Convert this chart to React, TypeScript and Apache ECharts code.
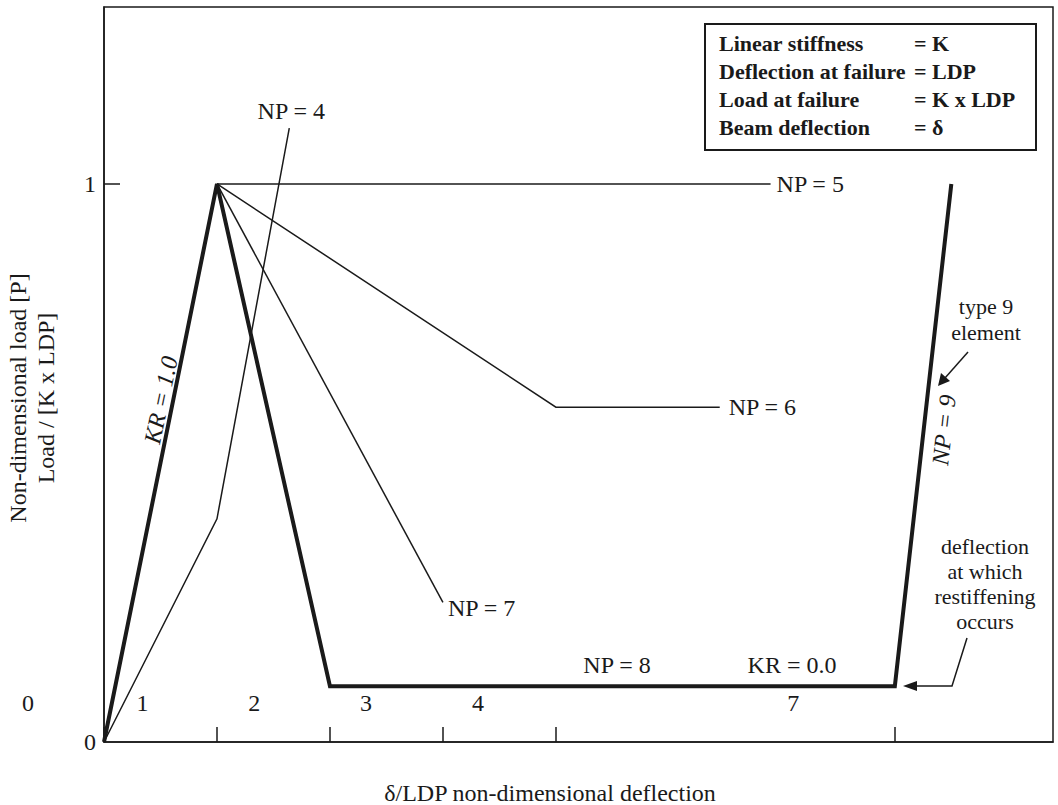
import React, { useEffect, useRef } from "react";
import * as echarts from "echarts";

// ---- data (non-dimensional deflection, non-dimensional load) ----
const thickX = [0, 1, 2, 7, 7.5];
const thickY = [0, 1, 0.1, 0.1, 1];
const np4X = [0, 1, 1.64];
const np4Y = [0, 0.4, 1.1];
const np5X = [1, 5.9];
const np5Y = [1, 1];
const np6X = [1, 4, 5.45];
const np6Y = [1, 0.6, 0.6];
const np7X = [1, 3];
const np7Y = [1, 0.25];

const xTicks = [0, 1, 2, 3, 4, 7];
const yTicks = [1];
const yLabels = [0, 1];
const segLabels = ["1", "2", "3", "4", "7"];
const segLabelX = [0.34, 1.33, 2.32, 3.31, 6.1];

const legendLeft = ["Linear stiffness", "Deflection at failure", "Load at failure", "Beam deflection"];
const legendRight = ["= K", "= LDP", "= K x LDP", "= δ"];

const FONT = "'Liberation Serif', 'Times New Roman', serif";
const INK = "#1a1a1a";

const pairs = (xs: number[], ys: number[]) => xs.map((x, i) => [x, ys[i]]);

export default function App() {
  const ref = useRef<HTMLDivElement>(null);
  useEffect(() => {
    const chart = echarts.init(ref.current!, null, { renderer: "svg" });
    const lineSeries = (name: string, xs: number[], ys: number[], w: number) => ({
      name,
      type: "line",
      data: pairs(xs, ys),
      showSymbol: false,
      symbol: "none",
      lineStyle: { color: INK, width: w, join: "miter" },
      z: 3,
    });
    const txt = (text: string, x: number, y: number, extra: any = {}) => ({
      type: "text",
      x,
      y,
      style: {
        text,
        fill: INK,
        font: `24px ${FONT}`,
        textAlign: "center",
        textVerticalAlign: "middle",
        ...extra,
      },
      z: 10,
    });
    chart.setOption({
      animation: false,
      backgroundColor: "#fff",
      grid: {
        left: 104,
        top: 7,
        right: 5,
        bottom: 63,
        show: true,
        borderColor: INK,
        borderWidth: 1.5,
        backgroundColor: "transparent",
      },
      xAxis: {
        type: "value",
        min: 0,
        max: 8.4,
        axisLine: { show: true, onZero: false, lineStyle: { color: INK, width: 1.5 } },
        axisTick: { show: true, inside: true, length: 15, customValues: xTicks, lineStyle: { color: INK, width: 1.5 } },
        axisLabel: { show: false },
        splitLine: { show: false },
      },
      yAxis: {
        type: "value",
        min: 0,
        max: 1.317,
        axisLine: { show: true, onZero: false, lineStyle: { color: INK, width: 1.5 } },
        axisTick: { show: true, inside: true, length: 16, customValues: yTicks, lineStyle: { color: INK, width: 1.5 } },
        axisLabel: {
          show: true,
          customValues: yLabels,
          margin: 8,
          color: INK,
          fontFamily: "Liberation Serif",
          fontSize: 24,
        },
        splitLine: { show: false },
      },
      series: [
        lineSeries("thick", thickX, thickY, 4),
        lineSeries("NP4", np4X, np4Y, 1.5),
        lineSeries("NP5", np5X, np5Y, 1.5),
        lineSeries("NP6", np6X, np6Y, 1.5),
        lineSeries("NP7", np7X, np7Y, 1.5),
      ],
    });

    const px = (x: number, y: number) => chart.convertToPixel({ gridIndex: 0 }, [x, y]) as number[];
    const graphics: any[] = [];

    // segment labels
    segLabels.forEach((s, i) => {
      const p = px(segLabelX[i], 0);
      graphics.push(txt(s, p[0], 703));
    });
    graphics.push(txt("0", 28, 703));

    // series labels
    const p4 = px(np4X[2], np4Y[2]);
    graphics.push(txt("NP = 4", p4[0] + 2, p4[1] - 17));
    const p5 = px(np5X[1], np5Y[1]);
    graphics.push(txt("NP = 5", p5[0] + 6, p5[1], { textAlign: "left" }));
    const p6 = px(np6X[2], np6Y[2]);
    graphics.push(txt("NP = 6", p6[0] + 9, p6[1], { textAlign: "left" }));
    const p7 = px(np7X[1], np7Y[1]);
    graphics.push(txt("NP = 7", p7[0] + 5, p7[1] + 6, { textAlign: "left" }));
    graphics.push(txt("NP = 8", 617, 665));
    graphics.push(txt("KR = 0.0", 792, 665));

    // rotated labels
    graphics.push({
      type: "text",
      x: 161,
      y: 400,
      rotation: Math.atan2(558, 115),
      style: { text: "KR = 1.0", fill: INK, font: `italic 24px ${FONT}`, textAlign: "center", textVerticalAlign: "middle" },
      z: 10,
    });
    graphics.push({
      type: "text",
      x: 944,
      y: 430,
      rotation: Math.atan2(502, 57),
      style: { text: "NP = 9", fill: INK, font: `italic 24px ${FONT}`, textAlign: "center", textVerticalAlign: "middle" },
      z: 10,
    });

    // annotations
    graphics.push(txt("type 9", 986, 306, { font: `22px ${FONT}` }));
    graphics.push(txt("element", 986, 332, { font: `22px ${FONT}` }));
    graphics.push({ type: "line", shape: { x1: 968, y1: 352, x2: 945, y2: 378 }, style: { stroke: INK, lineWidth: 1.5 }, z: 10 });
    graphics.push({ type: "polygon", shape: { points: [[938, 386], [941, 373], [950, 381]] }, style: { fill: INK }, z: 10 });

    ["deflection", "at which", "restiffening", "occurs"].forEach((s, i) =>
      graphics.push(txt(s, 985, 546 + i * 25, { font: `22px ${FONT}` }))
    );
    graphics.push({
      type: "polyline",
      shape: { points: [[967, 638], [952, 686], [915, 686]] },
      style: { stroke: INK, lineWidth: 1.5, fill: null },
      z: 10,
    });
    graphics.push({ type: "polygon", shape: { points: [[903, 686], [917, 681], [917, 691]] }, style: { fill: INK }, z: 10 });

    // legend box
    graphics.push({ type: "rect", shape: { x: 705, y: 24, width: 331, height: 126 }, style: { fill: "#fff", stroke: INK, lineWidth: 2 }, z: 9 });
    legendLeft.forEach((s, i) =>
      graphics.push(txt(s, 719, 43 + i * 28.3, { textAlign: "left", font: `bold 22px ${FONT}` }))
    );
    legendRight.forEach((s, i) =>
      graphics.push(txt(s, 914, 43 + i * 28.3, { textAlign: "left", font: `bold 22px ${FONT}` }))
    );

    // axis titles
    graphics.push(txt("δ/LDP non-dimensional deflection", 550, 793));
    graphics.push({
      type: "text",
      x: 18,
      y: 398,
      rotation: Math.PI / 2,
      style: { text: "Non-dimensional load [P]", fill: INK, font: `24px ${FONT}`, textAlign: "center", textVerticalAlign: "middle" },
      z: 10,
    });
    graphics.push({
      type: "text",
      x: 46,
      y: 398,
      rotation: Math.PI / 2,
      style: { text: "Load / [K x LDP]", fill: INK, font: `24px ${FONT}`, textAlign: "center", textVerticalAlign: "middle" },
      z: 10,
    });

    chart.setOption({ graphic: graphics });
    return () => chart.dispose();
  }, []);
  return <div ref={ref} style={{ position: "fixed", left: 0, top: 0, width: 1058, height: 805 }} />;
}
